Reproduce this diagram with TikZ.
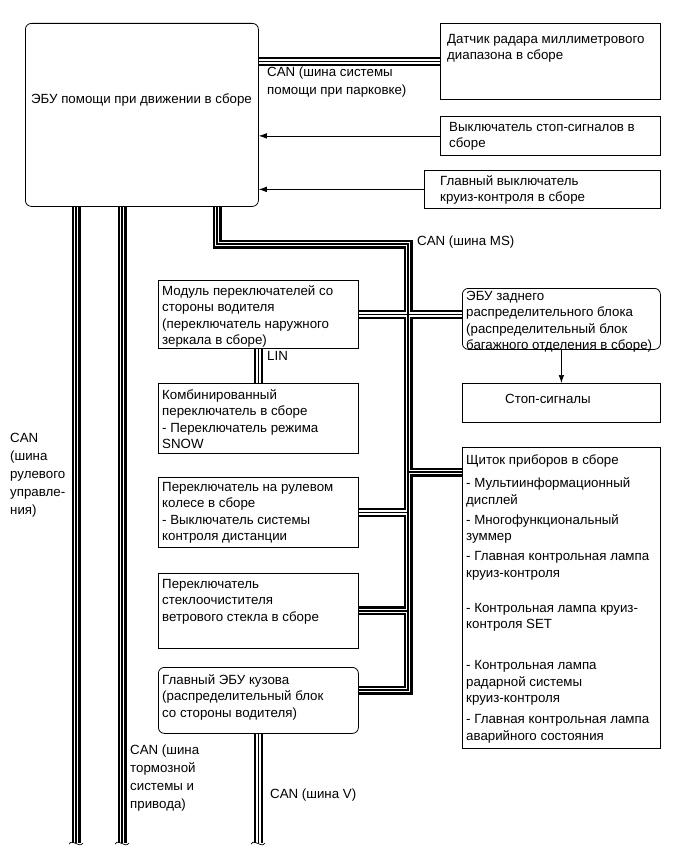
\documentclass[tikz,border=0pt]{standalone}
\usepackage{fontspec}
\setmainfont{Liberation Sans}
\usetikzlibrary{arrows.meta,calc}

\newcommand\fs{\fontsize{13.3}{16.5}\selectfont}
\newcommand\fslab{\fontsize{13.3}{18}\selectfont}

\tikzset{
  box/.style={draw, line width=0.8pt, anchor=north west, inner sep=0pt},
  rbox/.style={box, rounded corners=6pt},
  txt/.style={inner sep=0pt, anchor=north west, align=left, font=\fs},
  lab/.style={inner sep=0pt, align=left, font=\fslab},
  sig/.style={line width=0.7pt, -{Latex[length=8pt,width=5.5pt]}},
  breakmark/.style={line width=0.7pt},
}

% all bus segments, drawn three times (black, white, thin black)
\newcommand\busnet{
  (ecu.east |- radar.west) -- (radar.west)
  (steerend |- ecu.south) -- (steerend)
  (brakeend |- ecu.south) -- (brakeend)
  (msturn |- ecu.south) -- (msturn) -- (mscorner) -- (msbottom) -- (msbottom -| bodyecu.east)
  (drvsw.east) -- (drvsw.east -| rearecu.west)
  (clusterjoin) -- (clusterjoin -| cluster.west)
  (steer.east) -- (steer.east -| mscorner)
  (wiper.east) -- (wiper.east -| mscorner)
  (drvsw.south) -- (combsw.north)
  (bodyecu.south) -- (bodyecu.south |- vend)
}

\begin{document}
\begin{tikzpicture}[x=1pt, y=-1pt]
    \useasboundingbox (0,0) rectangle (686,856);

    % ECU and sensors at the top
    \node[rbox, minimum width=233, minimum height=183] (ecu) at (25,23) {};
    \node[font=\fs, inner sep=0pt] (ecutxt) at (141.5,100) {ЭБУ помощи при движении в сборе};
    \node[box, minimum width=220, minimum height=76] (radar) at (440,23) {};
    \node[txt] (radartxt) at ([shift={(7,11)}]radar.north west) {Датчик радара миллиметрового\\диапазона в сборе};
    \node[box, minimum width=220, minimum height=39] (brakesw) at (440,116) {};
    \node[txt] (brakeswtxt) at ([shift={(9,6)}]brakesw.north west) {Выключатель стоп-сигналов в\\сборе};
    \node[box, minimum width=236, minimum height=38] (cruisesw) at (424,170) {};
    \node[txt] (cruiseswtxt) at ([shift={(16,5)}]cruisesw.north west) {Главный выключатель\\круиз-контроля в сборе};

    % left column
    \node[box, minimum width=200, minimum height=68] (drvsw) at (158,280) {};
    \node[txt] (drvswtxt) at ([shift={(4,5)}]drvsw.north west) {Модуль переключателей со\\стороны водителя\\(переключатель наружного\\зеркала в сборе)};
    \node[box, minimum width=200, minimum height=70] (combsw) at (158,383) {};
    \node[txt] (combswtxt) at ([shift={(4,6)}]combsw.north west) {Комбинированный\\переключатель в сборе\\- Переключатель режима\\SNOW};
    \node[box, minimum width=200, minimum height=70] (steer) at (158,477) {};
    \node[txt] (steertxt) at ([shift={(4,5)}]steer.north west) {Переключатель на рулевом\\колесе в сборе\\- Выключатель системы\\контроля дистанции};
    \node[box, minimum width=200, minimum height=75] (wiper) at (158,573) {};
    \node[txt] (wipertxt) at ([shift={(4,6)}]wiper.north west) {Переключатель\\стеклоочистителя\\ветрового стекла в сборе};
    \node[rbox, minimum width=200, minimum height=66] (bodyecu) at (158,667) {};
    \node[txt] (bodyecutxt) at ([shift={(4,7)}]bodyecu.north west) {Главный ЭБУ кузова\\(распределительный блок\\со стороны водителя)};

    % right column
    \node[rbox, minimum width=198, minimum height=61] (rearecu) at (462,288) {};
    \node[txt] (rearecutxt) at ([shift={(4,3)}]rearecu.north west) {ЭБУ заднего\\распределительного блока\\(распределительный блок\\багажного отделения в сборе)};
    \node[box, minimum width=198, minimum height=39] (stop) at (462,383) {};
    \node[font=\fs, inner sep=0pt] (stoptxt) at (548,399) {Стоп-сигналы};
    \node[box, minimum width=198, minimum height=301] (cluster) at (462,447) {};
    \node[txt] (clustertxt) at ([shift={(4,8)}]cluster.north west) {Щиток приборов в сборе\\[6.5pt]
      - Мультиинформационный\\дисплей\\[3.5pt]
      - Многофункциональный\\зуммер\\[3.5pt]
      - Главная контрольная лампа\\круиз-контроля\\[18.5pt]
      - Контрольная лампа круиз-\\контроля SET\\[24.5pt]
      - Контрольная лампа\\радарной системы\\круиз-контроля\\[4.5pt]
      - Главная контрольная лампа\\аварийного состояния};

    % bus points
    \coordinate (steerend) at (76,843);
    \coordinate (brakeend) at (122,843);
    \coordinate (vend) at (258,843);
    \coordinate (msturn) at (217,244);
    \coordinate (mscorner) at (408,244);
    \coordinate (msbottom) at (408,690);
    \coordinate (clusterjoin) at (408,472);

    % buses
    \foreach \lw/\lc in {9/black, 4.6/white, 1.4/black}
        \draw[line width=\lw pt, \lc] \busnet;
    \foreach \e in {steerend, brakeend, vend}
        \draw[breakmark] ($(\e)+(-7,1)$) .. controls ($(\e)+(-3,-5)$) and ($(\e)+(3,6)$) .. ($(\e)+(7,0)$);

    % signal lines
    \draw[sig] (brakesw.west) -- (brakesw.west -| ecu.east);
    \draw[sig] (cruisesw.west) -- (cruisesw.west -| ecu.east);
    \draw[sig] (rearecu.south) -- (stop.north);

    % bus labels
    \node[lab, anchor=north west] (parklab) at (267,67) {CAN (шина системы\\помощи при парковке)};
    \node[lab, anchor=west] (mslab) at (417,242) {CAN (шина MS)};
    \node[lab, anchor=west] (linlab) at (267,356) {LIN};
    \node[lab, anchor=north west] (steerlab) at (10,433) {CAN\\(шина\\рулевого\\управле-\\ния)};
    \node[lab, anchor=north west] (brakelab) at (130,745) {CAN (шина\\тормозной\\системы и\\привода)};
    \node[lab, anchor=west] (vlab) at (270,795) {CAN (шина V)};
\end{tikzpicture}
\end{document}
